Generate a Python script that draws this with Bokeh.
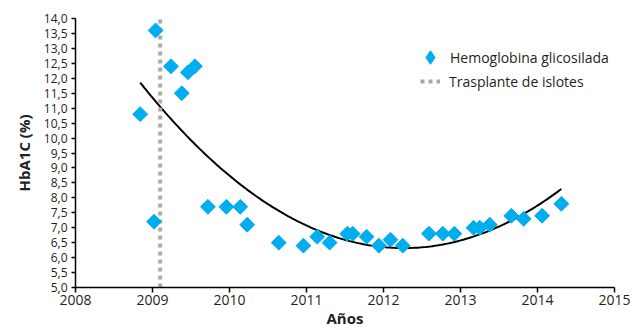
import numpy as np
from bokeh.plotting import figure
from bokeh.models import Range1d, FixedTicker, Legend, LegendItem, ColumnDataSource
from bokeh.embed import file_html
from bokeh.resources import INLINE

# Data
dates = [2008.84, 2009.02, 2009.04, 2009.24, 2009.38, 2009.46, 2009.55, 2009.72,
         2009.96, 2010.14, 2010.23, 2010.64, 2010.96, 2011.14, 2011.30, 2011.53,
         2011.60, 2011.78, 2011.94, 2012.09, 2012.25, 2012.59, 2012.77, 2012.92,
         2013.17, 2013.25, 2013.38, 2013.66, 2013.82, 2014.06, 2014.31]
hba1c = [10.8, 7.2, 13.6, 12.4, 11.5, 12.2, 12.4, 7.7,
         7.7, 7.7, 7.1, 6.5, 6.4, 6.7, 6.5, 6.8,
         6.8, 6.7, 6.4, 6.6, 6.4, 6.8, 6.8, 6.8,
         7.0, 7.0, 7.1, 7.4, 7.3, 7.4, 7.8]
transplant_x = [2009.1, 2009.1]
transplant_y = [5.0, 14.0]
x_ticks = [2008, 2009, 2010, 2011, 2012, 2013, 2014, 2015]
y_ticks = [5.0 + 0.5 * i for i in range(19)]
y_tick_labels = {t: f"{t:.1f}".replace(".", ",") for t in y_ticks}
series_label = "Hemoglobina glicosilada"
transplant_label = "Trasplante de islotes"

FONT = "Open Sans"
BLUE = "#00AEEF"
TXT = "#231F20"

p = figure(width=639, height=330, output_backend="svg", toolbar_location=None,
           x_range=Range1d(2008, 2015), y_range=Range1d(5, 14),
           min_border_left=75, min_border_right=25, min_border_top=18, min_border_bottom=43)
p.outline_line_color = None
p.grid.grid_line_color = None
p.background_fill_color = "white"

# quadratic trend line fitted to the series
coef = np.polyfit(dates, hba1c, 2)
tx = np.linspace(min(dates), max(dates), 200)
ty = np.polyval(coef, tx)
p.line(tx, ty, line_color="black", line_width=2)

r_line = p.line(transplant_x, transplant_y, line_color="#A9A9A9", line_width=4, line_dash="4 4")

src = ColumnDataSource(dict(x=dates, y=hba1c))
p.scatter("x", "y", source=src, marker="square", angle=np.pi / 4, size=10.5,
          fill_color=BLUE, line_color=BLUE)
# hidden renderer of the same series, used only for the diamond legend swatch
r_key = p.scatter("x", "y", source=src, marker="diamond", fill_color=BLUE, line_color=BLUE,
                  visible=False)

for ax in (p.xaxis[0], p.yaxis[0]):
    ax.axis_line_color = "black"
    ax.axis_line_width = 1.5
    ax.major_tick_line_color = "black"
    ax.major_tick_line_width = 1.5
    ax.major_tick_in = 0
    ax.minor_tick_line_color = None
    ax.major_label_text_font = FONT
    ax.major_label_text_color = TXT
    ax.axis_label_text_font = FONT
    ax.axis_label_text_font_style = "bold"
    ax.axis_label_text_font_size = "15px"
    ax.axis_label_text_color = TXT

p.xaxis.ticker = FixedTicker(ticks=x_ticks)
p.xaxis.axis_label = "Años"
p.xaxis.major_tick_out = 5
p.xaxis.major_label_text_font_size = "14px"
p.xaxis.major_label_standoff = 2
p.xaxis.axis_label_standoff = 0

p.yaxis.ticker = FixedTicker(ticks=y_ticks)
p.yaxis.major_label_overrides = y_tick_labels
p.yaxis.axis_label = "HbA1C (%)"
p.yaxis.major_tick_out = 4
p.yaxis.major_label_text_font_size = "12px"
p.yaxis.major_label_standoff = 4
p.yaxis.axis_label_standoff = 7

common = dict(padding=0, label_height=20, border_line_color=None, background_fill_alpha=0,
              inactive_fill_alpha=0, click_policy="none",
              label_text_font=FONT, label_text_font_size="14px", label_text_color=TXT)
leg1 = Legend(items=[LegendItem(label=series_label, renderers=[r_key])],
              location=(338, 213), glyph_width=34, glyph_height=34, label_standoff=3, **common)
leg2 = Legend(items=[LegendItem(label=transplant_label, renderers=[r_line])],
              location=(345, 196), glyph_width=20, glyph_height=20, label_standoff=9, **common)
p.add_layout(leg1, "center")
p.add_layout(leg2, "center")

open("out.html", "w").write(file_html(p, INLINE))
